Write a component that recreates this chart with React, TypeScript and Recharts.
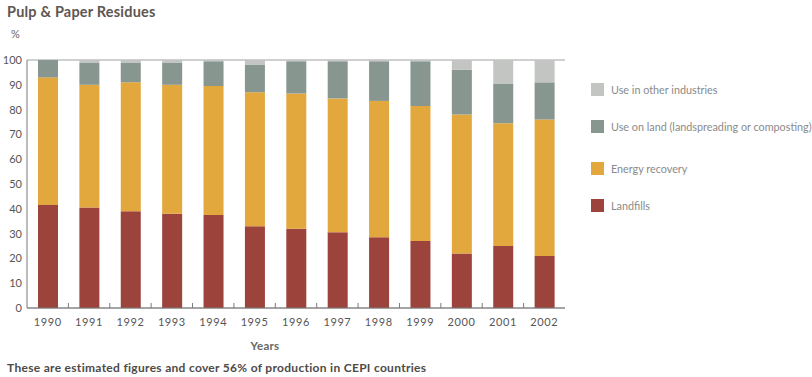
import { BarChart, Bar, XAxis, YAxis, CartesianGrid } from "recharts"

const years = ["1990", "1991", "1992", "1993", "1994", "1995", "1996", "1997", "1998", "1999", "2000", "2001", "2002"]
const landfills = [41.5, 40.5, 39, 38, 37.5, 33, 32, 30.5, 28.5, 27, 22, 25, 21]
const energyRecovery = [51.5, 49.5, 52, 52, 52, 54, 54.5, 54, 55, 54.5, 56, 49.5, 55]
const useOnLand = [7, 9, 8, 9, 10, 11, 13, 15, 16, 18, 18, 16, 15]
const otherIndustries = [0, 1, 1, 1, 0.5, 2, 0.5, 0.5, 0.5, 0.5, 4, 9.5, 9]
const yTicks = [0, 10, 20, 30, 40, 50, 60, 70, 80, 90, 100]

const data = years.map((year, i) => ({
  year,
  landfills: landfills[i],
  energy: energyRecovery[i],
  land: useOnLand[i],
  other: otherIndustries[i],
}))

// stack order, bottom to top
const series = [
  { key: "landfills", name: "Landfills", color: "#9c433b" },
  { key: "energy", name: "Energy recovery", color: "#e2a83d" },
  { key: "land", name: "Use on land (landspreading or composting)", color: "#87968f" },
  { key: "other", name: "Use in other industries", color: "#c3c5c3" },
]

const FONT = "Lato, 'Noto Sans', sans-serif"
const AXIS = "#7a7a7a"

function YearTick(props: any) {
  const { x, y, payload } = props
  const half = payload.offset ?? 20.7
  return (
    <g>
      {payload.index > 0 && (
        <line x1={x - half} y1={y} x2={x - half} y2={y - 5} stroke={AXIS} />
      )}
      <text x={x} y={y + 18} textAnchor="middle" fontSize={11} fill="#555" fontFamily={FONT} letterSpacing={0.6}>
        {payload.value}
      </text>
    </g>
  )
}

export default function App() {
  const legendItems = [...series].reverse()
  const legendTops = [83, 120, 162, 199]
  return (
    <div style={{ position: "absolute", left: 0, top: 0, width: 812, height: 377, background: "#fff", overflow: "hidden" }}>
      <div style={{ position: "absolute", left: 7, top: 3, fontFamily: FONT, fontWeight: 700, fontSize: 14.5, color: "#5e5652", letterSpacing: 0.2 }}>
        Pulp &amp; Paper Residues
      </div>
      <div style={{ position: "absolute", left: 11, top: 27, fontFamily: FONT, fontSize: 11, color: "#666" }}>%</div>
      <div style={{ position: "absolute", left: 0, width: 530, textAlign: "center", top: 339, fontFamily: FONT, fontSize: 11.5, fontWeight: 700, color: "#666", letterSpacing: 0.3 }}>
        Years
      </div>
      <div style={{ position: "absolute", left: 7, top: 360, fontFamily: FONT, fontSize: 12, fontWeight: 700, color: "#4e4a47", letterSpacing: 0.3 }}>
        These are estimated figures and cover 56% of production in CEPI countries
      </div>
      {legendItems.map((it, i) => (
        <div
          key={it.key}
          style={{ position: "absolute", left: 591, top: legendTops[i], display: "flex", alignItems: "center", height: 13, fontFamily: FONT, fontSize: 10.8, color: "#8a8a8a", whiteSpace: "nowrap" }}
        >
          <span style={{ width: 13, height: 13, background: it.color, display: "inline-block", marginRight: 7 }} />
          <span>{it.name}</span>
        </div>
      ))}
      <BarChart
        width={812}
        height={377}
        data={data}
        margin={{ top: 60, right: 247, bottom: 39, left: 0 }}
        barSize={20}
      >
        <CartesianGrid vertical={false} stroke="#a0a0a0" />
        <XAxis
          dataKey="year"
          stroke={AXIS}
          height={30}
          tickSize={0}
          tickMargin={0}
          tick={<YearTick />}
          interval={0}
        />
        <YAxis
          yAxisId="left"
          domain={[0, 100]}
          ticks={yTicks}
          width={27}
          stroke={AXIS}
          tickLine={false}
          tickSize={0}
          tickMargin={5}
          tick={{ fontSize: 11, fill: "#555", fontFamily: FONT }}
        />
        <YAxis yAxisId="right" orientation="right" domain={[0, 100]} width={0} stroke={AXIS} tick={false} tickLine={false} />
        {series.map((s) => (
          <Bar key={s.key} yAxisId="left" dataKey={s.key} name={s.name} stackId="a" fill={s.color} isAnimationActive={false} />
        ))}
      </BarChart>
    </div>
  )
}
